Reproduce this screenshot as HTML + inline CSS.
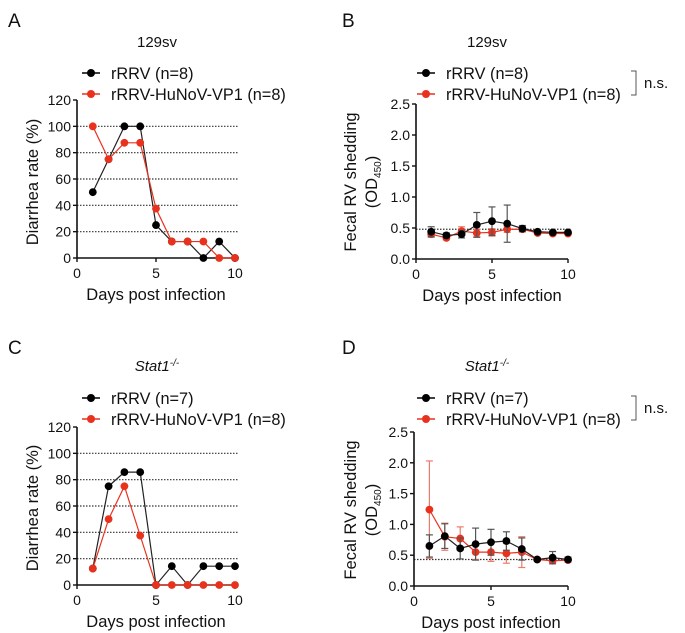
<!DOCTYPE html>
<html><head><meta charset="utf-8"><style>
body{margin:0;background:#fff}
svg{display:block;font-family:"Liberation Sans",Arial,sans-serif}
</style></head><body>
<svg id="fig" width="685" height="633" viewBox="0 0 685 633" xmlns="http://www.w3.org/2000/svg"></svg>
<script>
const days=[1,2,3,4,5,6,7,8,9,10];
const aBlack=[50,75,100,100,25,12.5,12.5,0,12.5,0];
const aRed=[100,75,87.5,87.5,37.5,12.5,12.5,12.5,0,0];
const bBlack=[0.44,0.38,0.40,0.55,0.61,0.57,0.49,0.44,0.43,0.43];
const bBlackErr=[0.08,0.04,0.06,0.2,0.23,0.3,0.05,0.02,0.02,0.02];
const bRed=[0.40,0.34,0.45,0.42,0.43,0.48,0.48,0.42,0.41,0.41];
const bRedErr=[0.05,0.03,0.07,0.06,0.06,0.05,0.04,0.02,0.02,0.02];
const cBlack=[12.5,75,85.7,85.7,0,14.3,0,14.3,14.3,14.3];
const cRed=[12.5,50,75,37.5,0,0,0,0,0,0];
const dBlack=[0.65,0.81,0.61,0.68,0.71,0.73,0.60,0.43,0.46,0.43];
const dBlackErr=[0.18,0.2,0.17,0.26,0.21,0.15,0.18,0.02,0.1,0.04];
const dRed=[1.24,0.80,0.77,0.55,0.55,0.53,0.55,0.43,0.41,0.42];
const dRedErr=[0.79,0.22,0.19,0.12,0.15,0.16,0.25,0.02,0.03,0.02];
const rateTicks=[0,20,40,60,80,100,120];
const odTicks=["0.0","0.5","1.0","1.5","2.0","2.5"];
const xTicks=[0,5,10];

const svg=document.getElementById('fig');
const NS='http://www.w3.org/2000/svg';
function mk(tag,attrs,parent,name){const e=document.createElementNS(NS,tag);for(const k in attrs)e.setAttribute(k,attrs[k]);


(parent||svg).appendChild(e);return e;}
function txt(x,y,s,size,anchor,name,extra){const t=mk('text',Object.assign({x:x,y:y,'font-size':size,'text-anchor':anchor||'start',fill:'#111'},extra||{}),svg,name);t.textContent=s;return t;}

function panel(o){
  const X=v=>o.x0+(v/10)*(o.x1-o.x0);
  const Y=v=>o.y0-(v/o.ymax)*(o.y0-o.y1);
  const g=mk('g',{},svg,o.id+'-panel');
  if(o.grid){o.grid.forEach(v=>{mk('line',{x1:o.x0,x2:X(10)+3,y1:Y(v),y2:Y(v),stroke:'#333','stroke-width':1.2,'stroke-dasharray':'1.5,1.5'},g,'gridline');});}
  if(o.ref!=null){mk('line',{x1:o.x0,x2:X(10)+3,y1:Y(o.ref),y2:Y(o.ref),stroke:'#333','stroke-width':1.2,'stroke-dasharray':'1.5,1.5'},g,'reference-line');}
  mk('line',{x1:o.x0,x2:o.x0,y1:o.y1,y2:o.y0,stroke:'#111','stroke-width':1.6},g,'y-axis');
  mk('line',{x1:o.x0,x2:o.x1,y1:o.y0,y2:o.y0,stroke:'#111','stroke-width':1.6},g,'x-axis');
  o.yticks.forEach(t=>{const v=parseFloat(t);mk('line',{x1:o.x0-4,x2:o.x0,y1:Y(v),y2:Y(v),stroke:'#111','stroke-width':1.4},g,'y-tick');
    txt(o.x0-6,Y(v)+5,t,14,'end','y-tick-label');});
  xTicks.forEach(v=>{mk('line',{x1:X(v),x2:X(v),y1:o.y0,y2:o.y0+4,stroke:'#111','stroke-width':1.4},g,'x-tick');
    txt(X(v),o.y0+20,String(v),14,'middle','x-tick-label');});
  txt((o.x0+o.x1)/2,o.y0+42,'Days post infection',16.5,'middle','x-axis-title');
  o.series.forEach(s=>{
    const pts=days.map((d,i)=>X(d)+','+Y(s.v[i])).join(' ');
    if(s.err){days.forEach((d,i)=>{const x=X(d),a=Y(s.v[i]+s.err[i]),b=Y(Math.max(0,s.v[i]-s.err[i]));
      mk('line',{x1:x,x2:x,y1:a,y2:b,stroke:s.ec,'stroke-width':1.2},g,s.name+'-errorbar');
      mk('line',{x1:x-3.5,x2:x+3.5,y1:a,y2:a,stroke:s.ec,'stroke-width':1.2},g,s.name+'-errorcap');
      mk('line',{x1:x-3.5,x2:x+3.5,y1:b,y2:b,stroke:s.ec,'stroke-width':1.2},g,s.name+'-errorcap');});}
    mk('polyline',{points:pts,fill:'none',stroke:s.lc,'stroke-width':1.2},g,s.name+'-line');
    days.forEach((d,i)=>{mk('circle',{cx:X(d),cy:Y(s.v[i]),r:3.9,fill:s.c},g,s.name+'-point');});
  });
}
function legend(x,y,n1,ns){
  mk('line',{x1:x-9,x2:x+9,y1:y,y2:y,stroke:'#000','stroke-width':1.5},svg,'legend-line-rrrv');
  mk('circle',{cx:x,cy:y,r:4,fill:'#000'},svg,'legend-marker-rrrv');
  txt(x+20,y+6,'rRRV (n='+n1+')',16.3,'start','legend-entry-rrrv');
  mk('line',{x1:x-9,x2:x+9,y1:y+21,y2:y+21,stroke:'#e8321e','stroke-width':1.5},svg,'legend-line-hunov');
  mk('circle',{cx:x,cy:y+21,r:4,fill:'#e8321e'},svg,'legend-marker-hunov');
  txt(x+20,y+27,'rRRV-HuNoV-VP1 (n=8)',16.3,'start','legend-entry-hunov');
  if(ns){mk('polyline',{points:(x+205)+','+(y-2)+' '+(x+210)+','+(y-2)+' '+(x+210)+','+(y+22)+' '+(x+205)+','+(y+22),fill:'none',stroke:'#555','stroke-width':1},svg,'significance-bracket');
    txt(x+218,y+15,'n.s.',15,'start','significance-label');}
}
function ytitle(x,y,lines,name){
  const t=mk('text',{transform:'translate('+x+','+y+') rotate(-90)','font-size':16.5,'text-anchor':'middle',fill:'#111'},svg,name);
  t.textContent=lines;
}
txt(8,27,'A',19,'start','panel-label-a');txt(342,27,'B',19,'start','panel-label-b');
txt(8,354,'C',19,'start','panel-label-c');txt(342,354,'D',19,'start','panel-label-d');
txt(157,47,'129sv',15,'middle','title-a');txt(487,47,'129sv',15,'middle','title-b');
const tc=txt(157,371,'Stat1',15,'middle','title-c',{'font-style':'italic'});
const s1=document.createElementNS(NS,'tspan');s1.setAttribute('baseline-shift','super');s1.setAttribute('font-size','10');s1.textContent='-/-';tc.appendChild(s1);
const td=txt(487,371,'Stat1',15,'middle','title-d',{'font-style':'italic'});
const s2=document.createElementNS(NS,'tspan');s2.setAttribute('baseline-shift','super');s2.setAttribute('font-size','10');s2.textContent='-/-';td.appendChild(s2);

legend(91,73,8,false);legend(426,73,8,true);
legend(91,398,7,false);legend(426,398,7,true);

const black={c:'#000',lc:'#222',ec:'#555'},red={c:'#e8321e',lc:'#e8321e',ec:'#ee7a6a'};
panel({id:'a',x0:77,x1:235,y0:258,y1:100,ymax:120,yticks:rateTicks.map(String),grid:[20,40,60,80,100],
  series:[Object.assign({name:'rrrv',v:aBlack},black),Object.assign({name:'hunov',v:aRed},red)]});
panel({id:'b',x0:416,x1:568,y0:259,y1:104,ymax:2.5,yticks:odTicks,ref:0.48,
  series:[Object.assign({name:'hunov',v:bRed,err:bRedErr},red),Object.assign({name:'rrrv',v:bBlack,err:bBlackErr},black)]});
panel({id:'c',x0:77,x1:235,y0:585,y1:427,ymax:120,yticks:rateTicks.map(String),grid:[20,40,60,80,100],
  series:[Object.assign({name:'rrrv',v:cBlack},black),Object.assign({name:'hunov',v:cRed},red)]});
panel({id:'d',x0:414,x1:568,y0:586,y1:432,ymax:2.5,yticks:odTicks,ref:0.43,
  series:[Object.assign({name:'hunov',v:dRed,err:dRedErr},red),Object.assign({name:'rrrv',v:dBlack,err:dBlackErr},black)]});

ytitle(38,182,'Diarrhea rate (%)','y-axis-title-a');
ytitle(38,508,'Diarrhea rate (%)','y-axis-title-c');
function odTitle(x,y,n){
  ytitle(x,y,'Fecal RV shedding',n+'-line1');
  const t=mk('text',{transform:'translate('+(x+21)+','+y+') rotate(-90)','font-size':16.5,'text-anchor':'middle',fill:'#111'},svg,n+'-line2');
  t.appendChild(document.createTextNode('(OD'));
  const sb=document.createElementNS(NS,'tspan');sb.setAttribute('font-size','10');sb.setAttribute('dy','4');sb.textContent='450';t.appendChild(sb);
  const cl=document.createElementNS(NS,'tspan');cl.setAttribute('dy','-4');cl.textContent=')';t.appendChild(cl);
}
odTitle(356,182,'y-axis-title-b');odTitle(356,510,'y-axis-title-d');
</script>
</body></html>
